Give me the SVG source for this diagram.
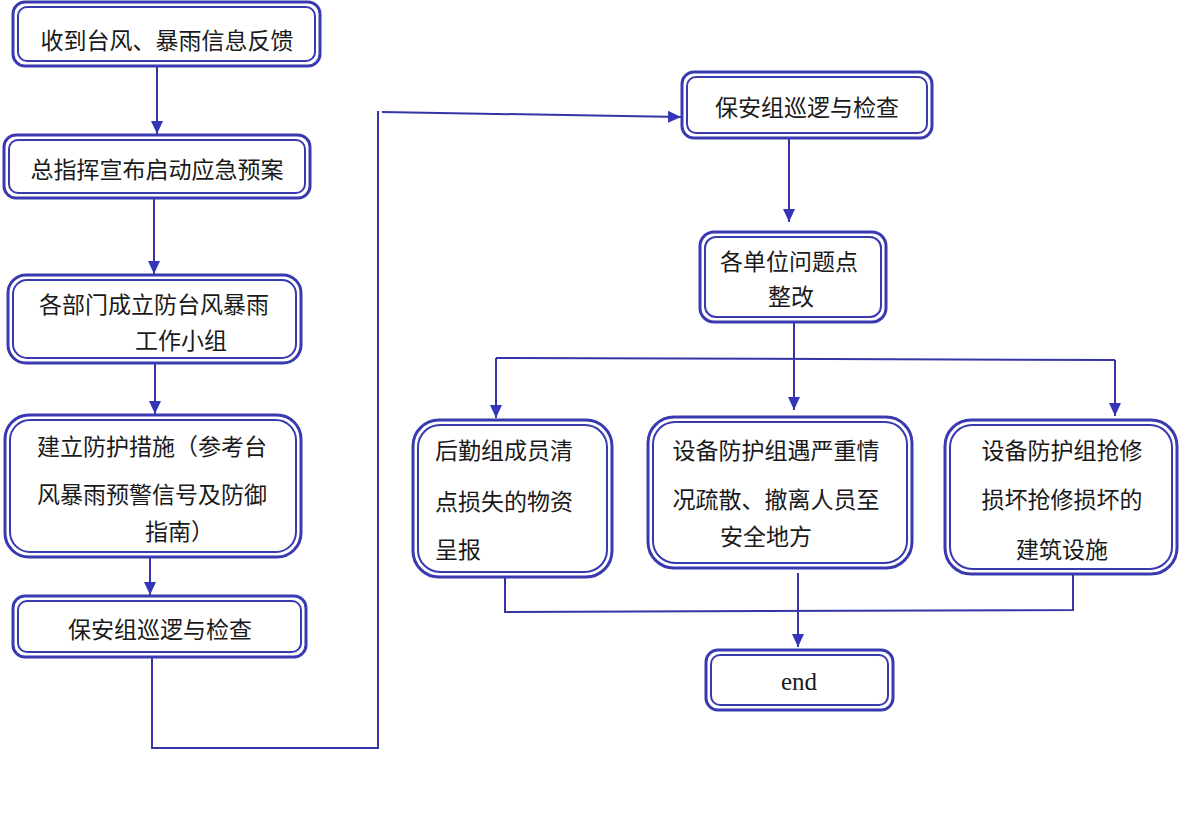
<svg xmlns="http://www.w3.org/2000/svg" width="1179" height="813" viewBox="0 0 1179 813">
<style>
.o{fill:#fff;stroke:#3a3ab0;stroke-width:3}
.i{fill:none;stroke:#3a3ab0;stroke-width:2}
.t{font-family:"Liberation Serif","Noto Sans CJK SC",serif;font-size:23px;fill:#1a1a1a}
.c{text-anchor:middle}
.l{fill:none;stroke:#3535a8;stroke-width:2}
</style>
<defs>
<marker id="a" markerUnits="userSpaceOnUse" markerWidth="14" markerHeight="12" refX="13" refY="6" orient="auto">
<path d="M0,0 L13,6 L0,12 z" fill="#3535b8"/>
</marker>
</defs>
<rect width="1179" height="813" fill="#fff"/>
<g id="connectors">
<line class="l" x1="157" y1="66" x2="157" y2="134" marker-end="url(#a)"/>
<line class="l" x1="154" y1="198" x2="154" y2="274" marker-end="url(#a)"/>
<line class="l" x1="155" y1="363" x2="155" y2="414" marker-end="url(#a)"/>
<line class="l" x1="150" y1="557" x2="150" y2="595" marker-end="url(#a)"/>
<polyline class="l" points="152,658 152,748 378,748 378,111"/>
<line class="l" x1="382" y1="112" x2="681" y2="117" marker-end="url(#a)"/>
<line class="l" x1="789" y1="138" x2="789" y2="222" marker-end="url(#a)"/>
<line class="l" x1="794" y1="322" x2="794" y2="410" marker-end="url(#a)"/>
<line class="l" x1="496" y1="358" x2="1115" y2="360"/>
<line class="l" x1="496" y1="358" x2="496" y2="418" marker-end="url(#a)"/>
<line class="l" x1="1115" y1="360" x2="1115" y2="416" marker-end="url(#a)"/>
<polyline class="l" points="505,572 505,612 1073,610 1073,570"/>
<line class="l" x1="798" y1="573" x2="798" y2="647" marker-end="url(#a)"/>
</g>
<g id="n1"><rect class="o" x="13" y="2" width="307" height="64" rx="12"/><rect class="i" x="18" y="7" width="297" height="54" rx="9"/>
<text class="t c" x="167" y="49">收到台风、暴雨信息反馈</text></g>
<g id="n2"><rect class="o" x="4" y="135" width="306" height="63" rx="12"/><rect class="i" x="9" y="140" width="296" height="53" rx="9"/>
<text class="t c" x="157" y="178">总指挥宣布启动应急预案</text></g>
<g id="n3"><rect class="o" x="8" y="275" width="293" height="88" rx="18"/><rect class="i" x="13" y="280" width="283" height="78" rx="14"/>
<text class="t" x="39" y="313">各部门成立防台风暴雨</text><text class="t" x="135" y="349">工作小组</text></g>
<g id="n4"><rect class="o" x="5" y="415" width="296" height="142" rx="24"/><rect class="i" x="10" y="420" width="286" height="132" rx="20"/>
<text class="t" x="37" y="455">建立防护措施（参考台</text><text class="t" x="37" y="503">风暴雨预警信号及防御</text><text class="t" x="145" y="540">指南）</text></g>
<g id="n5"><rect class="o" x="13" y="596" width="293" height="61" rx="12"/><rect class="i" x="18" y="601" width="283" height="51" rx="9"/>
<text class="t c" x="160" y="638">保安组巡逻与检查</text></g>
<g id="n6"><rect class="o" x="682" y="72" width="250" height="66" rx="12"/><rect class="i" x="687" y="77" width="240" height="56" rx="9"/>
<text class="t c" x="807" y="116">保安组巡逻与检查</text></g>
<g id="n7"><rect class="o" x="700" y="232" width="186" height="90" rx="14"/><rect class="i" x="705" y="237" width="176" height="80" rx="11"/>
<text class="t c" x="789" y="270">各单位问题点</text><text class="t c" x="791" y="305">整改</text></g>
<g id="n8"><rect class="o" x="413" y="420" width="199" height="157" rx="26"/><rect class="i" x="418" y="425" width="189" height="147" rx="22"/>
<text class="t" x="435" y="459">后勤组成员清</text><text class="t" x="435" y="510">点损失的物资</text><text class="t" x="435" y="558">呈报</text></g>
<g id="n9"><rect class="o" x="648" y="417" width="264" height="151" rx="26"/><rect class="i" x="653" y="422" width="254" height="141" rx="22"/>
<text class="t c" x="776" y="459">设备防护组遇严重情</text><text class="t c" x="776" y="508">况疏散、撤离人员至</text><text class="t c" x="766" y="545">安全地方</text></g>
<g id="n10"><rect class="o" x="945" y="420" width="232" height="154" rx="26"/><rect class="i" x="950" y="425" width="222" height="144" rx="22"/>
<text class="t c" x="1062" y="459">设备防护组抢修</text><text class="t c" x="1062" y="508">损坏抢修损坏的</text><text class="t c" x="1062" y="558">建筑设施</text></g>
<g id="end"><rect class="o" x="706" y="650" width="187" height="60" rx="12"/><rect class="i" x="711" y="655" width="177" height="50" rx="9"/>
<text class="t c" x="799" y="690" style="font-size:25px">end</text></g>
</svg>
